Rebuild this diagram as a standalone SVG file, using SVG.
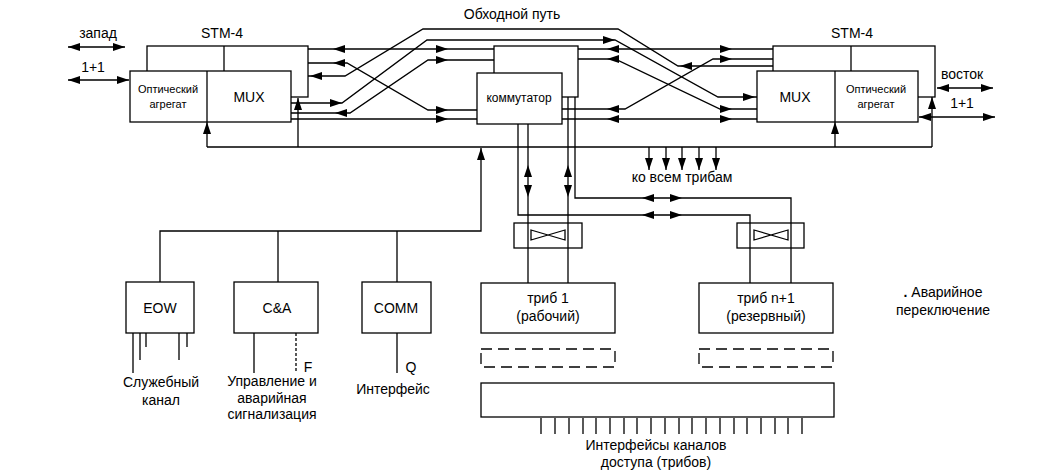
<svg xmlns="http://www.w3.org/2000/svg" xmlns:xlink="http://www.w3.org/1999/xlink" width="1055" height="474" viewBox="0 0 1055 474">
<style>
.box{fill:#fff;stroke:#000;stroke-width:1.3}
.ln{fill:none;stroke:#000;stroke-width:1.3}
.dash{fill:none;stroke:#000;stroke-width:1.3;stroke-dasharray:11,6}
.dot{fill:none;stroke:#000;stroke-width:1.3;stroke-dasharray:3,2}
text{font-family:"Liberation Sans",Arial,sans-serif;font-size:14px;fill:#000;text-anchor:middle}
.sm{font-size:11px}
.md{font-size:12px}
</style>
<defs>
<path id="ah" d="M0,0 L-12,-4 L-12,4 Z" fill="#000"/>
</defs>
<rect width="1055" height="474" fill="#fff"/>

<g id="connectors">
<path class="ln" d="M308,49 H494"/>
<path class="ln" d="M308,63 H347 L428,110 H477"/>
<path class="ln" d="M308,76 H345 L423,29 H618 L678,66 H773"/>
<path class="ln" d="M291,103 H342 L427,40 H615 L718,97 H757"/>
<path class="ln" d="M291,113 H350 L428,60 H494"/>
<path class="ln" d="M291,119 H477"/>
<path class="ln" d="M578,49 H773"/>
<path class="ln" d="M578,59 H615 L720,109 H757"/>
<path class="ln" d="M562,109 H625 L713,59 H773"/>
<path class="ln" d="M562,119 H757"/>
<path class="ln" d="M68,47 H125 M68,80 H129 M937,88 H993 M919,117 H995"/>
<path class="ln" d="M207,147 H932 M207,147 V122 M298,147 V98 M835,147 V122 M932,147 V97"/>
<path class="ln" d="M649,147 V170 M666,147 V170 M682,147 V170 M699,147 V170 M716,147 V170"/>
<path class="ln" d="M518,124 V215 H750 V283"/>
<path class="ln" d="M528,124 V283"/>
<path class="ln" d="M568,97 V283"/>
<path class="ln" d="M575,97 V198 H791 V283"/>
<path class="ln" d="M481,148 V231 H160 V282 M278,231 V282 M397,231 V282"/>
<path class="ln" d="M133,333 V373 M140,333 V360 M146,333 V347 M179,333 V360 M187,333 V347"/>
<path class="ln" d="M254,333 V373 M397,333 V373"/>
<path class="dot" d="M296,333 V373"/>
<path class="ln" d="M541,418 V434 M555,418 V434 M569,418 V434 M583,418 V434 M596,418 V434 M610,418 V434 M624,418 V434 M637,418 V434 M651,418 V434 M665,418 V434 M679,418 V434 M692,418 V434 M706,418 V434 M720,418 V434 M734,418 V434 M747,418 V434 M761,418 V434 M775,418 V434 M788,418 V434 M802,418 V434"/>

<use href="#ah" transform="translate(333,49) rotate(180)"/>
<use href="#ah" transform="translate(448,49)"/>
<use href="#ah" transform="translate(333,63) rotate(180)"/>
<use href="#ah" transform="translate(448,110)"/>
<use href="#ah" transform="translate(310,76) rotate(180)"/>
<use href="#ah" transform="translate(680,66) rotate(180)"/>
<use href="#ah" transform="translate(342,103)"/>
<use href="#ah" transform="translate(615,40)"/>
<use href="#ah" transform="translate(755,97)"/>
<use href="#ah" transform="translate(335,113) rotate(180)"/>
<use href="#ah" transform="translate(448,60)"/>
<use href="#ah" transform="translate(448,119)"/>
<use href="#ah" transform="translate(607,49) rotate(180)"/>
<use href="#ah" transform="translate(732,49)"/>
<use href="#ah" transform="translate(607,59) rotate(180)"/>
<use href="#ah" transform="translate(732,109)"/>
<use href="#ah" transform="translate(607,109) rotate(180)"/>
<use href="#ah" transform="translate(732,59)"/>
<use href="#ah" transform="translate(607,119) rotate(180)"/>
<use href="#ah" transform="translate(732,119)"/>
<use href="#ah" transform="translate(68,47) rotate(180)"/>
<use href="#ah" transform="translate(125,47)"/>
<use href="#ah" transform="translate(68,80) rotate(180)"/>
<use href="#ah" transform="translate(129,80)"/>
<use href="#ah" transform="translate(937,88) rotate(180)"/>
<use href="#ah" transform="translate(993,88)"/>
<use href="#ah" transform="translate(919,117) rotate(180)"/>
<use href="#ah" transform="translate(995,117)"/>
<use href="#ah" transform="translate(207,122) rotate(-90)"/>
<use href="#ah" transform="translate(298,98) rotate(-90)"/>
<use href="#ah" transform="translate(835,122) rotate(-90)"/>
<use href="#ah" transform="translate(932,97) rotate(-90)"/>
<use href="#ah" transform="translate(481,148) rotate(-90)"/>
<use href="#ah" transform="translate(649,170) rotate(90)"/>
<use href="#ah" transform="translate(666,170) rotate(90)"/>
<use href="#ah" transform="translate(682,170) rotate(90)"/>
<use href="#ah" transform="translate(699,170) rotate(90)"/>
<use href="#ah" transform="translate(716,170) rotate(90)"/>
<use href="#ah" transform="translate(528,165) rotate(-90)"/>
<use href="#ah" transform="translate(528,197) rotate(90)"/>
<use href="#ah" transform="translate(568,165) rotate(-90)"/>
<use href="#ah" transform="translate(568,197) rotate(90)"/>
<use href="#ah" transform="translate(642,198) rotate(180)"/>
<use href="#ah" transform="translate(682,198)"/>
<use href="#ah" transform="translate(642,215) rotate(180)"/>
<use href="#ah" transform="translate(682,215)"/>
</g>

<g id="stm4-west">
<rect class="box" x="147" y="46" width="161" height="51"/>
<path class="ln" d="M224,46 V71"/>
<rect class="box" x="130" y="71" width="161" height="51"/>
<path class="ln" d="M207,71 V122"/>
<text x="222" y="38">STM-4</text>
<text class="sm" x="168" y="93">Оптический</text>
<text class="sm" x="168" y="108">агрегат</text>
<text x="249" y="102">MUX</text>
</g>
<g id="west-labels">
<text x="98" y="38">запад</text>
<text x="93" y="72">1+1</text>
</g>

<g id="switch">
<rect class="box" x="494" y="46" width="84" height="51"/>
<rect class="box" x="477" y="73" width="85" height="51"/>
<text class="md" x="519" y="102">коммутатор</text>
</g>

<g id="stm4-east">
<rect class="box" x="773" y="46" width="162" height="51"/>
<path class="ln" d="M851,46 V71"/>
<rect class="box" x="757" y="71" width="161" height="51"/>
<path class="ln" d="M835,71 V122"/>
<text x="852" y="38">STM-4</text>
<text x="795" y="102">MUX</text>
<text class="sm" x="876" y="93">Оптический</text>
<text class="sm" x="876" y="108">агрегат</text>
</g>
<g id="east-labels">
<text x="962" y="79">восток</text>
<text x="962" y="108">1+1</text>
</g>

<text x="512" y="19">Обходной путь</text>
<text x="682" y="182">ко всем трибам</text>

<g id="sw1">
<rect x="514" y="223" width="68" height="25" fill="none" stroke="#000" stroke-width="1.3"/>
<path class="ln" d="M531,230 V240 L565,230 V240 L531,230 Z"/>
</g>
<g id="sw2">
<rect x="737" y="223" width="67" height="25" fill="none" stroke="#000" stroke-width="1.3"/>
<path class="ln" d="M754,230 V240 L788,230 V240 L754,230 Z"/>
</g>

<g id="trib1">
<rect class="box" x="481" y="283" width="134" height="50"/>
<text x="548" y="303">триб 1</text>
<text x="548" y="321">(рабочий)</text>
</g>
<g id="tribn1">
<rect class="box" x="699" y="283" width="134" height="50"/>
<text x="766" y="303">триб n+1</text>
<text x="766" y="321">(резервный)</text>
</g>
<g id="trib-dashed">
<rect class="dash" x="481" y="349" width="134" height="18"/>
<rect class="dash" x="699" y="349" width="134" height="18"/>
</g>
<g id="access">
<rect class="box" x="481" y="383" width="353" height="34"/>
<text x="656" y="450">Интерфейсы каналов</text>
<text x="656" y="467">доступа (трибов)</text>
</g>

<g id="eow">
<rect class="box" x="126" y="282" width="68" height="51"/>
<text x="160" y="313">EOW</text>
<text x="161" y="387">Служебный</text>
<text x="161" y="405">канал</text>
</g>
<g id="ca">
<rect class="box" x="234" y="282" width="84" height="51"/>
<text x="277" y="313">C&amp;A</text>
<text x="308" y="372">F</text>
<text x="272" y="386">Управление и</text>
<text x="272" y="403">аварийная</text>
<text x="272" y="419">сигнализация</text>
</g>
<g id="comm">
<rect class="box" x="362" y="282" width="69" height="51"/>
<text x="396" y="313">COMM</text>
<text x="411" y="372">Q</text>
<text x="393" y="394">Интерфейс</text>
</g>

<g id="legend">
<text x="943" y="297"><tspan font-weight="bold">.</tspan> Аварийное</text>
<text x="943" y="315">переключение</text>
</g>
</svg>
